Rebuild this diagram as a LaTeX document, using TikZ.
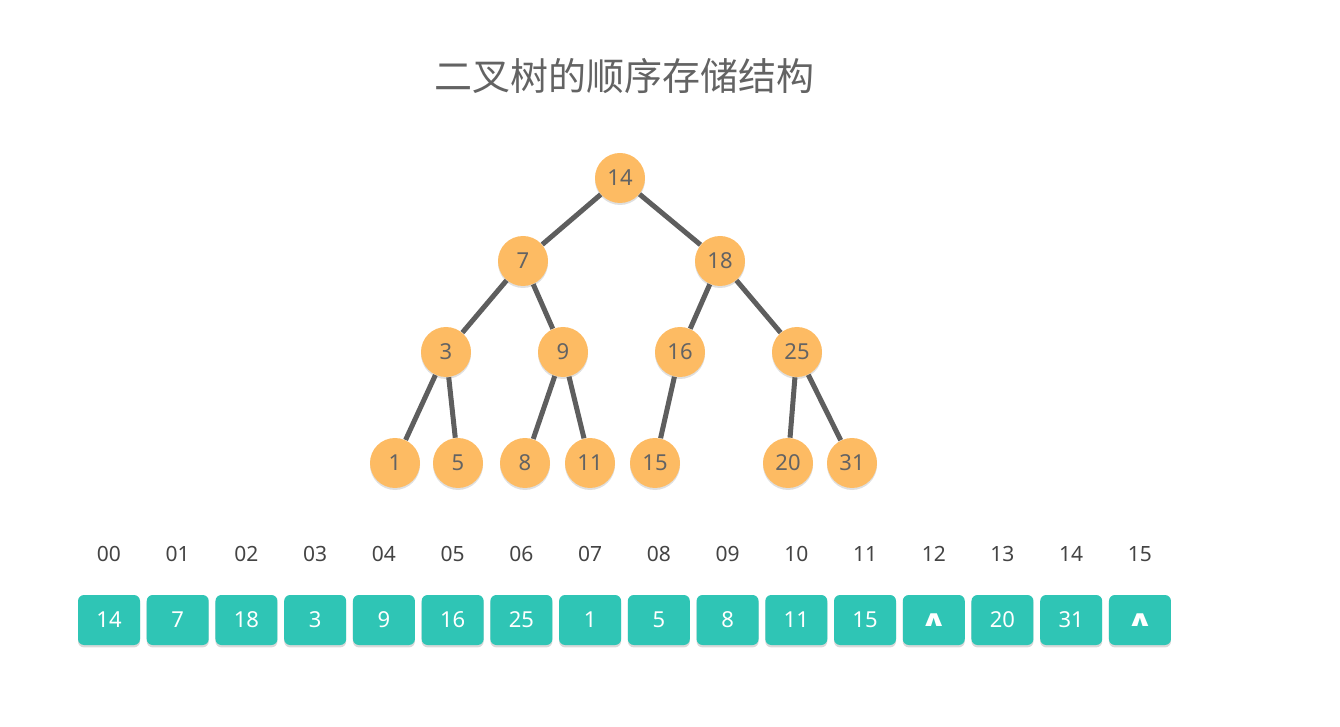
\documentclass[tikz,border=0pt]{standalone}
\usepackage{fontspec}
\setmainfont{Noto Sans}
\newfontfamily\cjk{Noto Sans CJK SC}
\newfontfamily\symfont[FakeStretch=1.5]{DejaVu Sans}
\usetikzlibrary{shadows}
\definecolor{nodeorange}{HTML}{FDBB63}
\definecolor{cellteal}{HTML}{2FC5B5}
\definecolor{edgegray}{HTML}{5E5E5E}
\definecolor{textgray}{HTML}{636363}
\definecolor{idxgray}{HTML}{444444}
\newcommand{\nil}{{\symfont\bfseries\fontsize{11}{11}\selectfont ∧}}
\tikzset{
  treenode/.style={circle,fill=nodeorange,minimum size=25pt,inner sep=0pt,text=textgray,font=\fontsize{11}{11}\selectfont,drop shadow={shadow xshift=0pt,shadow yshift=-1pt,opacity=0.25}},
  cell/.style={rounded corners=3pt,fill=cellteal,minimum width=31pt,minimum height=25pt,inner sep=0pt,text=white,font=\fontsize{11}{11}\selectfont,drop shadow={shadow xshift=0pt,shadow yshift=-1.2pt,opacity=0.3}},
  idx/.style={text=idxgray,font=\fontsize{10.5}{10.5}\selectfont},
  branch/.style={draw=edgegray,line width=2.5pt}
}

\begin{document}
\begin{tikzpicture}[x=0.5pt,y=-0.5pt]
    \useasboundingbox (0,0) rectangle (1340,727);
    \node[text=textgray,font=\cjk\fontsize{19}{19}\selectfont] (title) at (624,76) {二叉树的顺序存储结构};

    \node[treenode] (n14) at (620,178) {14};
    \node[treenode] (n7) at (523,261) {7};
    \node[treenode] (n18) at (720,261) {18};
    \node[treenode] (n3) at (446,352) {3};
    \node[treenode] (n9) at (563,352) {9};
    \node[treenode] (n16) at (680,352) {16};
    \node[treenode] (n25) at (797,352) {25};
    \node[treenode] (n1) at (395,463) {1};
    \node[treenode] (n5) at (458,463) {5};
    \node[treenode] (n8) at (525,463) {8};
    \node[treenode] (n11) at (590,463) {11};
    \node[treenode] (n15) at (655,463) {15};
    \node[treenode] (n20) at (788,463) {20};
    \node[treenode] (n31) at (852,463) {31};

    \draw[branch] (n14) -- (n7);
    \draw[branch] (n14) -- (n18);
    \draw[branch] (n7) -- (n3);
    \draw[branch] (n7) -- (n9);
    \draw[branch] (n18) -- (n16);
    \draw[branch] (n18) -- (n25);
    \draw[branch] (n3) -- (n1);
    \draw[branch] (n3) -- (n5);
    \draw[branch] (n9) -- (n8);
    \draw[branch] (n9) -- (n11);
    \draw[branch] (n16) -- (n15);
    \draw[branch] (n25) -- (n20);
    \draw[branch] (n25) -- (n31);

    \foreach \i/\v in {0/14,1/7,2/18,3/3,4/9,5/16,6/25,7/1,8/5,9/8,10/11,11/15,12/\nil,13/20,14/31,15/\nil} {
        \node[idx] (idx\i) at ({109+68.73*\i},554) {\ifnum\i<10 0\fi\i};
        \node[cell] (cell\i) at ({109+68.73*\i},620) {\v};
    }
\end{tikzpicture}
\end{document}
